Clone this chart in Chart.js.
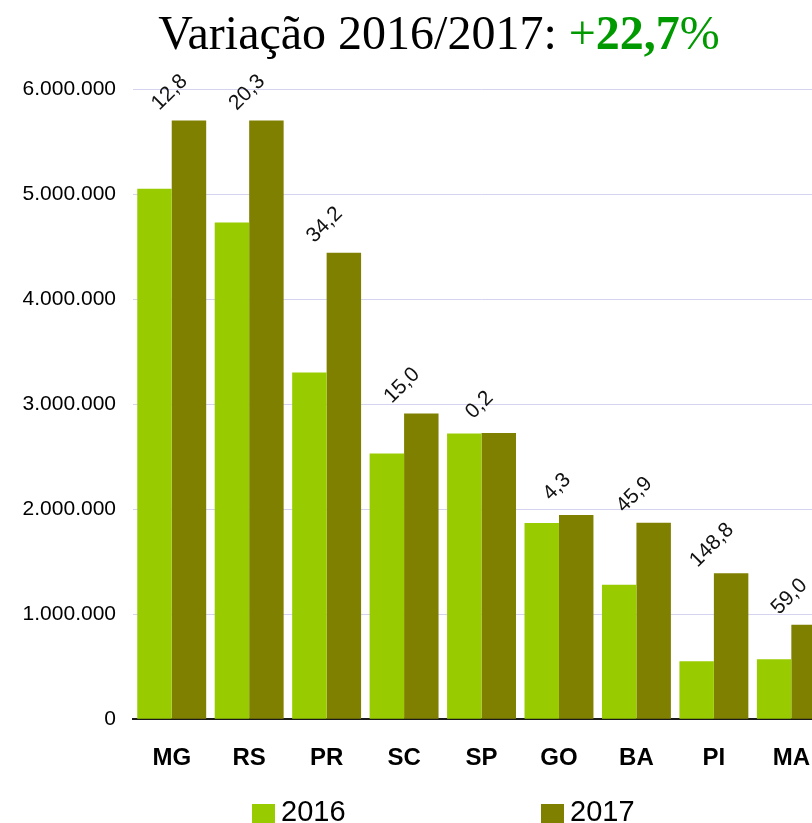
<!DOCTYPE html>
<html><head><meta charset="utf-8">
<script src="https://cdn.jsdelivr.net/npm/chart.js@4/dist/chart.umd.min.js"></script>
<style>
html,body{margin:0;padding:0;background:#fff;overflow:hidden;width:812px;height:823px;}
#wrap{position:relative;width:812px;height:823px;overflow:hidden;}
#title{position:absolute;left:0;top:9px;width:878px;text-align:center;font-family:'Liberation Serif','Times New Roman',serif;font-size:48px;line-height:48px;white-space:nowrap;color:#000;}
#title .g{color:#009900;}
#title b{font-weight:bold;}
#chartBox{position:absolute;left:0;top:0;width:835px;height:823px;}
.leg{position:absolute;top:797px;font-family:'Liberation Sans',Arial,sans-serif;font-size:29px;line-height:29px;color:#000;white-space:nowrap;}
.sq{position:absolute;top:804px;width:23px;height:19px;}
</style></head>
<body>
<div id="wrap">
  <div id="chartBox"><canvas id="c" width="835" height="823"></canvas></div>
  <div id="title">Variação 2016/2017: <span class="g">+<b>22,7</b>%</span></div>
  <div class="sq" style="left:252px;background:#99cc00"></div>
  <div class="leg" style="left:281px">2016</div>
  <div class="sq" style="left:541px;background:#808000"></div>
  <div class="leg" style="left:570px">2017</div>
</div>
<script>
const categorias = ['MG','RS','PR','SC','SP','GO','BA','PI','MA'];
const valores2016 = [5050000,4730000,3300000,2530000,2720000,1867000,1280000,552000,571000];
const valores2017 = [5700000,5700000,4440000,2910000,2725000,1945000,1870000,1390000,900000];
const variacao = [12.8,20.3,34.2,15.0,0.2,4.3,45.9,148.8,59.0];
const yMin = 0, yMax = 6000000, yStep = 1000000;

function fmtMilhar(v){ return String(Math.round(v)).replace(/\B(?=(\d{3})+(?!\d))/g,'.'); }

const rotLabels = {
  id:'rotLabels',
  afterDatasetsDraw(chart){
    const ctx = chart.ctx, xs = chart.scales.x, ys = chart.scales.y;
    ctx.save();
    ctx.font = '21px "Liberation Sans", Arial, sans-serif';
    ctx.fillStyle = '#111';
    ctx.textAlign = 'center';
    ctx.textBaseline = 'middle';
    variacao.forEach((v,i)=>{
      const cx = xs.getPixelForValue(i) - 2;
      const cy = ys.getPixelForValue(valores2017[i]) - 28;
      ctx.save();
      ctx.translate(cx, cy);
      ctx.rotate(-Math.PI/4);
      ctx.fillText(v.toFixed(1).replace('.',','), 0, 0);
      ctx.restore();
    });
    ctx.restore();
  }
};

new Chart(document.getElementById('c'), {
  type:'bar',
  data:{
    labels: categorias,
    datasets:[
      {label:'2016', data: valores2016, backgroundColor:'#99cc00', borderWidth:0},
      {label:'2017', data: valores2017, backgroundColor:'#808000', borderWidth:0}
    ]
  },
  options:{
    responsive:false,
    animation:false,
    devicePixelRatio:1,
    layout:{padding:{top:89,left:0,right:0,bottom:25}},
    datasets:{bar:{categoryPercentage:0.89,barPercentage:1.0}},
    plugins:{legend:{display:false},title:{display:false},tooltip:{enabled:false}},
    scales:{
      x:{
        grid:{display:false,drawTicks:false},
        border:{display:true,color:'#1a1a1a',width:2},
        ticks:{padding:25,color:'#000',font:{family:'"Liberation Sans", Arial, sans-serif',size:24,weight:'bold'}}
      },
      y:{
        min:yMin,max:yMax,
        grid:{color:'#d4d4f0',lineWidth:1,drawTicks:false},
        border:{display:false},
        ticks:{stepSize:yStep,padding:17,color:'#000',font:{family:'"Liberation Sans", Arial, sans-serif',size:21},callback:(v)=>fmtMilhar(v)},
        afterFit(s){ s.width = 133; }
      }
    }
  },
  plugins:[rotLabels]
});
</script>
</body></html>
